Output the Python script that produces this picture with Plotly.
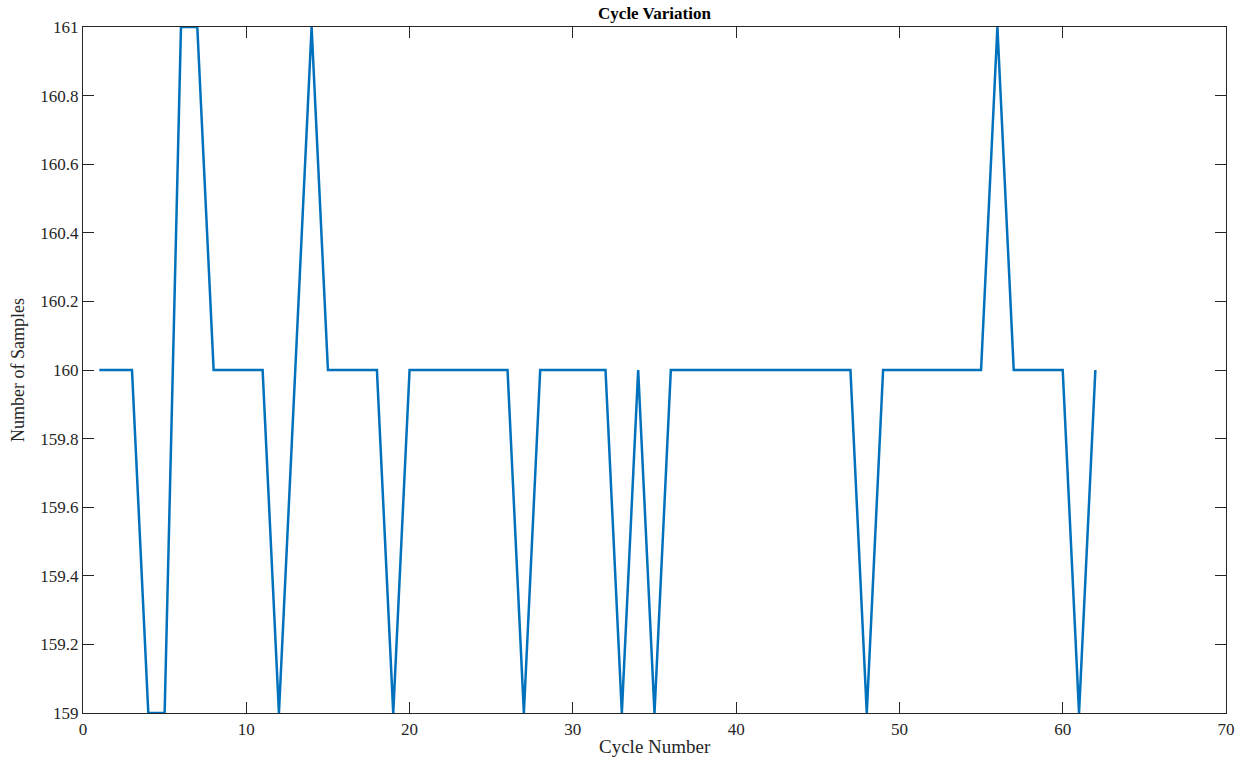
import plotly.graph_objects as go

cycle_number = list(range(1, 63))
num_samples = [
    160, 160, 160, 159, 159, 161, 161, 160, 160, 160,
    160, 159, 160, 161, 160, 160, 160, 160, 159, 160,
    160, 160, 160, 160, 160, 160, 159, 160, 160, 160,
    160, 160, 159, 160, 159, 160, 160, 160, 160, 160,
    160, 160, 160, 160, 160, 160, 160, 159, 160, 160,
    160, 160, 160, 160, 160, 161, 160, 160, 160, 160,
    159, 160,
]
y_ticks = [159, 159.2, 159.4, 159.6, 159.8, 160, 160.2, 160.4, 160.6, 160.8, 161]
y_tick_text = ["159", "159.2", "159.4", "159.6", "159.8", "160", "160.2", "160.4", "160.6", "160.8", "161"]
x_ticks = [0, 10, 20, 30, 40, 50, 60, 70]

font_family = "Liberation Serif"
axis_color = "#262626"

fig = go.Figure()
fig.add_trace(go.Scatter(
    x=cycle_number, y=num_samples, mode="lines",
    line=dict(color="#0072BD", width=2.5),
    showlegend=False,
))

fig.update_layout(
    width=1247, height=763,
    margin=dict(l=83, r=21, t=27, b=50),
    paper_bgcolor="white", plot_bgcolor="white",
    font=dict(family=font_family, size=17, color=axis_color),
    title=dict(text="<b>Cycle Variation</b>", x=0.5 * (83 + 1226) / 1247, xanchor="center",
               y=1 - 13 / 763, yanchor="middle", yref="container",
               font=dict(family=font_family, size=17, color="#000000")),
    xaxis=dict(
        range=[0, 70], tickvals=x_ticks, ticks="inside", ticklen=11, tickwidth=1,
        tickcolor=axis_color, showline=True, linecolor=axis_color, linewidth=1.2,
        mirror="ticks", showgrid=False, zeroline=False, automargin=False,
    ),
    yaxis=dict(
        range=[159, 161], tickvals=y_ticks, ticktext=y_tick_text, ticks="inside",
        ticklen=11, tickwidth=1, tickcolor=axis_color, showline=True,
        linecolor=axis_color, linewidth=1.2, mirror="ticks", showgrid=False,
        zeroline=False, automargin=False,
    ),
    annotations=[
        dict(text="Cycle Number", xref="paper", yref="paper",
             x=0.5, y=-34 / 686, xanchor="center", yanchor="middle",
             showarrow=False, font=dict(family=font_family, size=19, color=axis_color)),
        dict(text="Number of Samples", xref="paper", yref="paper",
             x=-65 / 1143, y=0.5, xanchor="center", yanchor="middle", textangle=-90,
             showarrow=False, font=dict(family=font_family, size=18, color=axis_color)),
    ],
)

fig.write_html("out.html")
